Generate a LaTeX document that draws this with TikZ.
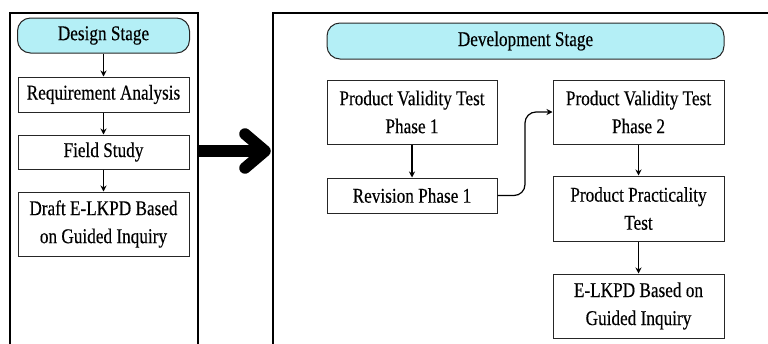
\documentclass[tikz,border=0pt]{standalone}
\usepackage{fontspec}
\setmainfont{Liberation Serif}[FakeStretch=0.82, FakeBold=0.3]
\usetikzlibrary{positioning,arrows.meta}

\definecolor{stagecyan}{RGB}{180,239,246}

\tikzset{
  frame/.style={draw, line width=1.8pt},
  stage/.style={draw=black!85, fill=stagecyan, rounded corners=13pt, line width=1pt,
    inner sep=2pt, font=\fontsize{21}{28}\selectfont},
  stepbox/.style={draw=black!85, line width=1pt, align=center, inner sep=2pt,
    minimum width=171pt, font=\fontsize{21}{28}\selectfont},
  flow/.style={line width=1.2pt, -{Stealth[length=6pt,width=6pt]}},
  bigarrow/.style={line width=11.5pt}
}

\begin{document}
\begin{tikzpicture}[x=1pt, y=-1pt]
  \useasboundingbox (0,0) rectangle (768,343);
  \clip (0,0) rectangle (768,343);

  % the two stage panels
  \draw[frame] (10,13) rectangle (198,360);
  \draw[frame] (273,13) rectangle (800,360);

  % design stage
  \node[stage, minimum width=172pt, minimum height=35pt] (design) at (103.5,35.5) {Design Stage};
  \node[stepbox, minimum height=35pt, below=23pt of design] (req) {Requirement Analysis};
  \node[stepbox, minimum height=34pt, below=22pt of req] (field) {Field Study};
  \node[stepbox, minimum height=64pt, below=22pt of field] (draft) {Draft E-LKPD Based\\on Guided Inquiry};

  \draw[flow] (design) -- (req);
  \draw[flow] (req) -- (field);
  \draw[flow] (field) -- (draft);

  % development stage
  \node[stage, minimum width=397pt, minimum height=36pt] (dev) at (525.5,41) {Development Stage};
  \node[stepbox, minimum width=170pt, minimum height=64pt] (pvt1) at (412,112) {Product Validity Test\\Phase 1};
  \node[stepbox, minimum width=170pt, minimum height=35pt, below=33pt of pvt1] (rev) {Revision Phase 1};
  \node[stepbox, minimum height=64pt] (pvt2) at (638.5,112) {Product Validity Test\\Phase 2};
  \node[stepbox, minimum height=65pt, below=31pt of pvt2] (ppt) {Product Practicality\\Test};
  \node[stepbox, minimum height=64pt, below=32pt of ppt] (elkpd) {E-LKPD Based on\\Guided Inquiry};

  \draw[flow] (pvt1) -- (rev);
  \draw[flow, rounded corners=11pt] (rev.east) -| (525,112) -- (pvt2.west);
  \draw[flow] (pvt2) -- (ppt);
  \draw[flow] (ppt) -- (elkpd);

  % big arrow from design to development
  \coordinate (bigfrom) at (198,151);
  \coordinate (bigto) at (265,151);
  \draw[bigarrow] (bigfrom) -- (bigto);
  \draw[bigarrow, line cap=round, line join=round]
    ([shift={(-20,-17)}]bigto) -- (bigto) -- ([shift={(-20,17)}]bigto);
\end{tikzpicture}
\end{document}
